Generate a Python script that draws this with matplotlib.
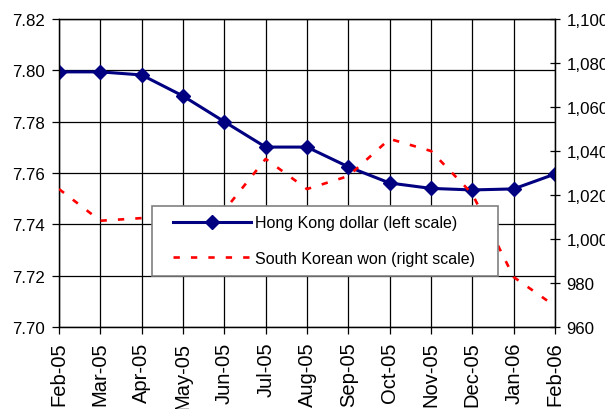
import matplotlib
matplotlib.use("Agg")
import matplotlib.pyplot as plt
from matplotlib.patches import Rectangle
from matplotlib.ticker import FuncFormatter, MultipleLocator

plt.rcParams['font.family'] = ['Liberation Sans', 'DejaVu Sans']

months = ["Feb-05", "Mar-05", "Apr-05", "May-05", "Jun-05", "Jul-05", "Aug-05",
          "Sep-05", "Oct-05", "Nov-05", "Dec-05", "Jan-06", "Feb-06"]
hkd = [7.7994, 7.7994, 7.7982, 7.7900, 7.7800, 7.7701, 7.7701,
       7.7624, 7.7561, 7.7540, 7.7534, 7.7538, 7.7596]
krw = [1022.7, 1008.3, 1009.5, 1005.0, 1013.0, 1036.4, 1022.7,
       1028.6, 1045.5, 1040.0, 1020.5, 982.7, 969.5]
hkd_label = "Hong Kong dollar (left scale)"
krw_label = "South Korean won (right scale)"

W, H = 605, 410
fig = plt.figure(figsize=(W / 100, H / 100), dpi=100)
ax = fig.add_axes([59 / W, 1 - 328 / H, (555 - 59) / W, (328 - 20) / H])
ax2 = ax.twinx()

x = list(range(len(months)))
l1, = ax.plot(x, hkd, color='#000080', lw=2.2, marker='D', ms=7.6,
              markeredgecolor='#000080', zorder=3)
l2, = ax2.plot(x, krw, color='#ff0000', lw=1.9, dashes=(2.4, 4.2), zorder=3)

ax.set_xlim(0, len(months) - 1)
ax.set_ylim(7.70, 7.82)
ax2.set_ylim(960, 1100)
ax.yaxis.set_major_locator(MultipleLocator(0.02))
ax.yaxis.set_major_formatter(FuncFormatter(lambda v, p: f"{v:.2f}"))
ax2.yaxis.set_major_locator(MultipleLocator(20))
ax2.yaxis.set_major_formatter(FuncFormatter(lambda v, p: f"{v:,.0f}"))

ax.set_xticks(x)
ax.set_xticklabels(months, rotation=90, fontsize=14.5)
ax.grid(True, color='black', lw=0.9)
ax.set_axisbelow(True)

ax.tick_params(axis='y', direction='out', length=5, width=0.9, pad=5, labelsize=12.2)
ax.tick_params(axis='x', direction='out', length=5, width=0.9, pad=5.5)
ax2.tick_params(axis='y', direction='inout', length=6.5, width=0.9, pad=5, labelsize=12.2)

for a in (ax, ax2):
    for s in a.spines.values():
        s.set_color('black')
        s.set_linewidth(0.9)

# legend box
rect = Rectangle((152 / W, 1 - 277 / H), (498 - 152) / W, (277 - 207) / H,
                 transform=fig.transFigure, facecolor='white', edgecolor='#808080',
                 lw=1.2, zorder=8)
fig.patches.append(rect)
leg = fig.legend([l1, l2], [hkd_label, krw_label], loc='upper left',
                 bbox_to_anchor=(166 / W, 1 - 209 / H), bbox_transform=fig.transFigure,
                 frameon=False, fontsize=11.5, handlelength=4.9, handletextpad=0.2,
                 labelspacing=1.3, borderaxespad=0, borderpad=0.45)
leg.set_zorder(9)

fig.savefig("out.png", dpi=100)
